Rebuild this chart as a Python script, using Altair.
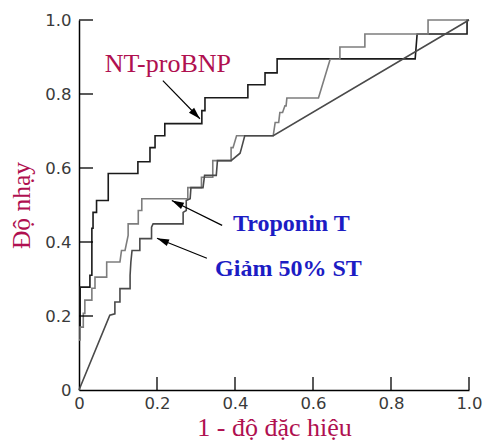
import math
import altair as alt
import pandas as pd

# ---------------- data ----------------
nt_x = [0.0, 0.003, 0.003, 0.028, 0.028, 0.033, 0.033, 0.036, 0.036, 0.045, 0.045, 0.075, 0.075,
        0.151, 0.151, 0.182, 0.182, 0.195, 0.195, 0.22, 0.22, 0.315, 0.315, 0.323, 0.323,
        0.433, 0.433, 0.477, 0.477, 0.508, 0.508, 0.862, 0.867, 0.995, 0.995, 1.0]
nt_y = [0.17, 0.17, 0.278, 0.278, 0.31, 0.31, 0.437, 0.437, 0.48, 0.48, 0.512, 0.512, 0.585,
        0.585, 0.617, 0.617, 0.655, 0.655, 0.687, 0.687, 0.72, 0.72, 0.755, 0.755, 0.79,
        0.79, 0.825, 0.825, 0.857, 0.857, 0.895, 0.895, 0.962, 0.962, 1.0, 1.0]

tr_x = [0.0, 0.003, 0.003, 0.011, 0.011, 0.015, 0.015, 0.033, 0.033, 0.041, 0.041, 0.071, 0.071,
        0.105, 0.109, 0.118, 0.126, 0.126, 0.152, 0.152, 0.161, 0.161, 0.279, 0.279, 0.314,
        0.314, 0.343, 0.343, 0.39, 0.39, 0.395, 0.404, 0.498, 0.503, 0.512, 0.515, 0.522,
        0.528, 0.531, 0.533, 0.614, 0.644, 0.669, 0.669, 0.733, 0.733, 0.895, 0.895, 1.0]
tr_y = [0.135, 0.135, 0.17, 0.17, 0.207, 0.207, 0.243, 0.243, 0.275, 0.275, 0.305, 0.305, 0.346,
        0.346, 0.377, 0.377, 0.418, 0.449, 0.449, 0.485, 0.485, 0.517, 0.517, 0.547, 0.547,
        0.575, 0.575, 0.62, 0.62, 0.655, 0.655, 0.687, 0.687, 0.723, 0.723, 0.75, 0.75,
        0.768, 0.768, 0.789, 0.789, 0.894, 0.894, 0.927, 0.927, 0.962, 0.962, 1.0, 1.0]

st_x = [0.0, 0.079, 0.092, 0.092, 0.105, 0.105, 0.131, 0.131, 0.133, 0.136, 0.156, 0.156, 0.186,
        0.186, 0.19, 0.267, 0.267, 0.275, 0.275, 0.285, 0.287, 0.318, 0.322, 0.352, 0.355,
        0.39, 0.413, 0.417, 0.425, 0.498, 1.0]
st_y = [0.0, 0.202, 0.206, 0.238, 0.238, 0.274, 0.274, 0.31, 0.346, 0.377, 0.377, 0.409, 0.409,
        0.44, 0.449, 0.449, 0.48, 0.485, 0.512, 0.517, 0.547, 0.547, 0.58, 0.58, 0.62,
        0.62, 0.64, 0.655, 0.687, 0.687, 1.0]

series_names = ["NT-proBNP", "Troponin T", "Giảm 50% ST"]
series_colors = ["#1a1a1a", "#7d7d7d", "#4a4a4a"]

tick_values = [0.0, 0.2, 0.4, 0.6, 0.8, 1.0]

# annotations: label text, position (data units)
ann_text = ["NT-proBNP", "Troponin T", "Giảm 50% ST"]
ann_x = [0.228, 0.395, 0.349]
ann_y = [0.86, 0.431, 0.307]
ann_color = ["#b01050", "#1c1cc4", "#1c1cc4"]

# arrows: tail -> head (data units)
arr_x1 = [0.215, 0.367, 0.328]
arr_y1 = [0.836, 0.445, 0.356]
arr_x2 = [0.31, 0.238, 0.2]
arr_y2 = [0.733, 0.512, 0.41]

# ---------------- tables ----------------
rows = []
for name, xs_, ys_ in zip(series_names, [nt_x, tr_x, st_x], [nt_y, tr_y, st_y]):
    for i, (a, b) in enumerate(zip(xs_, ys_)):
        rows.append({"series": name, "i": i, "x": a, "y": b})
curves = pd.DataFrame(rows)

W, H = 390, 370
arrows = pd.DataFrame({"x1": arr_x1, "y1": arr_y1, "x2": arr_x2, "y2": arr_y2})
arrows["angle"] = [
    (math.degrees(math.atan2((b2 - b1) * W, (c2 - c1) * H)) + 360) % 360
    for b1, b2, c1, c2 in zip(arr_x1, arr_x2, arr_y1, arr_y2)
]
ann = pd.DataFrame({"t": ann_text, "x": ann_x, "y": ann_y, "c": ann_color})

xticks = pd.DataFrame({"v": tick_values[1:]})
yticks = pd.DataFrame({"v": tick_values[1:]})

xs = alt.Scale(domain=[0, 1], nice=False, zero=False)
ys = alt.Scale(domain=[0, 1], nice=False, zero=False)

label_expr = "datum.value == 0 ? '0' : format(datum.value, '.1f')"

x_axis = alt.Axis(values=tick_values, labelExpr=label_expr, ticks=False, grid=False,
                  title="1 - độ đặc hiệu", titleFont="Liberation Serif", titleFontSize=26,
                  titleFontWeight="normal", titleColor="#b01050",
                  titleBaseline="alphabetic", titleY=45,
                  labelFont="DejaVu Sans", labelFontSize=16.5, labelColor="#3a3a3a",
                  labelPadding=5, domainColor="#000000", domainWidth=1.5, labelFlush=False)
y_axis = alt.Axis(values=tick_values, labelExpr=label_expr, ticks=False, grid=False,
                  title="Độ nhạy", titleFont="Liberation Serif", titleFontSize=25.5,
                  titleFontWeight="normal", titleColor="#b01050",
                  titleBaseline="alphabetic", titleX=-50,
                  labelFont="DejaVu Sans", labelFontSize=16.5, labelColor="#3a3a3a",
                  labelPadding=8, domainColor="#000000", domainWidth=1.5, labelFlush=False)

lines = alt.Chart(curves).mark_line(strokeWidth=1.6).encode(
    x=alt.X("x:Q", scale=xs, axis=x_axis),
    y=alt.Y("y:Q", scale=ys, axis=y_axis),
    color=alt.Color("series:N", scale=alt.Scale(domain=series_names, range=series_colors), legend=None),
    order="i:Q",
)

xt = alt.Chart(xticks).mark_rule(color="#000000", strokeWidth=1.3).encode(
    x="v:Q", y=alt.datum(0), y2=alt.datum(0.035))
yt = alt.Chart(yticks).mark_rule(color="#000000", strokeWidth=1.3).encode(
    y="v:Q", x=alt.datum(0), x2=alt.datum(0.036))

arr_lines = alt.Chart(arrows).mark_rule(color="#000000", strokeWidth=1.2).encode(
    x="x1:Q", y="y1:Q", x2="x2:Q", y2="y2:Q")
arr_heads = alt.Chart(arrows).mark_point(
    shape="M0,0L-0.6,2L0.6,2Z", filled=True, color="#000000", size=144, opacity=1
).encode(x="x2:Q", y="y2:Q", angle=alt.Angle("angle:Q", scale=None))

text_nt = alt.Chart(ann).transform_filter(alt.datum.t == "NT-proBNP").mark_text(
    font="Liberation Serif", fontSize=26, baseline="alphabetic", align="center"
).encode(x="x:Q", y="y:Q", text="t:N", color=alt.Color("c:N", scale=None))
text_blue = alt.Chart(ann).transform_filter(alt.datum.t != "NT-proBNP").mark_text(
    font="Liberation Serif", fontSize=24, fontWeight="bold", baseline="alphabetic", align="left"
).encode(x="x:Q", y="y:Q", text="t:N", color=alt.Color("c:N", scale=None))

chart = alt.layer(lines, xt, yt, arr_lines, arr_heads, text_nt, text_blue).properties(
    width=W, height=H,
    padding={"left": 79, "top": 20, "right": 15, "bottom": 54},
    autosize=alt.AutoSizeParams(type="none"),
    background="#ffffff",
).configure_view(stroke=None)

chart.save("out.html", embed_options={"renderer": "svg", "actions": False})
